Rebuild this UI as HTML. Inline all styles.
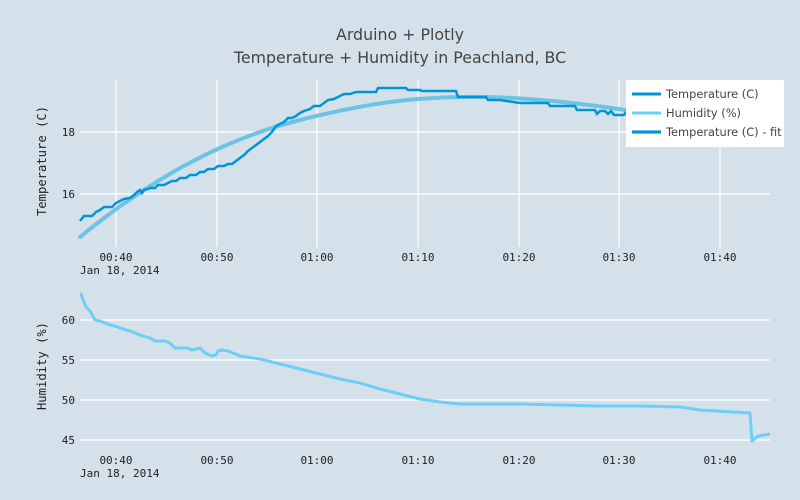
<!DOCTYPE html>
<html><head><meta charset="utf-8"><style>
html,body{margin:0;padding:0;background:#d5e1ea;}
svg{display:block}
.t{font-family:"DejaVu Sans Mono","Liberation Mono",monospace;font-size:11px;fill:#222}
.ti{font-family:"DejaVu Sans","Liberation Sans",sans-serif;font-size:15.8px;fill:#444}
.lg{font-family:"DejaVu Sans","Liberation Sans",sans-serif;font-size:11.4px;fill:#444}
</style></head><body>
<svg width="800" height="500" viewBox="0 0 800 500">
<rect width="800" height="500" fill="#d5e1ea"/>
<text class="ti" x="400" y="40" text-anchor="middle">Arduino + Plotly</text>
<text class="ti" x="400" y="63" text-anchor="middle">Temperature + Humidity in Peachland, BC</text>
<g stroke="#fff" stroke-width="1.2">
<line x1="116" y1="80" x2="116" y2="247"/><line x1="217" y1="80" x2="217" y2="247"/>
<line x1="317" y1="80" x2="317" y2="247"/><line x1="418" y1="80" x2="418" y2="247"/>
<line x1="519" y1="80" x2="519" y2="247"/><line x1="619" y1="80" x2="619" y2="247"/>
<line x1="720" y1="80" x2="720" y2="247"/>
<line x1="80" y1="132" x2="770" y2="132"/><line x1="80" y1="194" x2="770" y2="194"/>
<line x1="80" y1="320" x2="770" y2="320"/><line x1="80" y1="360" x2="770" y2="360"/>
<line x1="80" y1="400" x2="770" y2="400"/><line x1="80" y1="440" x2="770" y2="440"/>
</g>
<path fill="none" stroke="#6cc3e6" stroke-width="4" stroke-linecap="round" d="M80,237 C150,180 220,140 300,120 S420,98 460,97 S560,100 625,110"/>
<polyline fill="none" stroke="#0096d6" stroke-width="2.5" points="80,221 84,216 92,216 96,212 100,210 104,207 112,207 116,203 120,201 124,199 130,198 134,195 137,192 140,190 142,193 144,190 148,189 150,188 155,188 158,185 164,185 168,183 172,181 176,181 180,178 186,178 190,175 196,175 200,172 204,172 208,169 214,169 218,166 224,166 228,164 232,164 236,161 240,158 244,155 248,151 252,148 256,145 260,142 264,139 268,136 272,132 276,126 280,124 284,122 288,118 292,118 296,116 300,113 304,111 310,109 314,106 320,106 324,103 328,100 334,99 338,97 344,94 350,94 356,92 376,92 378,88 406,88 408,90 420,90 422,91 456,91 458,97 486,97 488,100 500,100 520,103 548,103 550,106 575,106 577,110 595,110 597,114 600,111 605,111 608,114 611,111 614,115 624,115 626,112"/>
<polyline fill="none" stroke="#6dcff6" stroke-width="3" stroke-linejoin="round" points="81,293 82,297 86,307 90,311 95,320 100,321 110,325 115,326 120,328 130,331 140,335 150,338 155,341 165,341 170,343 175,348 188,348 192,350 200,348 205,353 212,356 216,355 218,351 222,350 228,351 240,356 260,359 280,364 300,369 320,374 340,379 360,383 380,389 400,394 420,399 440,402 460,404 480,404 520,404 560,405 600,406 640,406 680,407 700,410 750,413 752,441 758,436 770,434"/>
<g class="t" text-anchor="end">
<text x="75" y="136">18</text><text x="75" y="198">16</text>
<text x="75" y="324">60</text><text x="75" y="364">55</text><text x="75" y="404">50</text><text x="75" y="444">45</text>
</g>
<g class="t" text-anchor="middle">
<text x="116" y="261">00:40</text><text x="217" y="261">00:50</text><text x="317" y="261">01:00</text><text x="418" y="261">01:10</text><text x="519" y="261">01:20</text><text x="619" y="261">01:30</text><text x="720" y="261">01:40</text>
<text x="116" y="464">00:40</text><text x="217" y="464">00:50</text><text x="317" y="464">01:00</text><text x="418" y="464">01:10</text><text x="519" y="464">01:20</text><text x="619" y="464">01:30</text><text x="720" y="464">01:40</text>
</g>
<text class="t" x="80" y="274">Jan 18, 2014</text>
<text class="t" x="80" y="477">Jan 18, 2014</text>
<text class="t" style="font-size:12.2px" transform="translate(46,161) rotate(-90)" text-anchor="middle">Temperature (C)</text>
<text class="t" style="font-size:12.2px" transform="translate(46,366) rotate(-90)" text-anchor="middle">Humidity (%)</text>
<rect x="626" y="80" width="158" height="67" fill="#fff"/>
<line x1="632" y1="94" x2="661" y2="94" stroke="#0096d6" stroke-width="3"/>
<line x1="632" y1="113" x2="661" y2="113" stroke="#6dcff6" stroke-width="3"/>
<line x1="632" y1="132" x2="661" y2="132" stroke="#6cc3e6" stroke-width="4"/>
<line x1="632" y1="132" x2="661" y2="132" stroke="#0096d6" stroke-width="2"/>
<text class="lg" x="666" y="98">Temperature (C)</text>
<text class="lg" x="666" y="117">Humidity (%)</text>
<text class="lg" x="666" y="136">Temperature (C) - fit</text>
</svg>
</body></html>
